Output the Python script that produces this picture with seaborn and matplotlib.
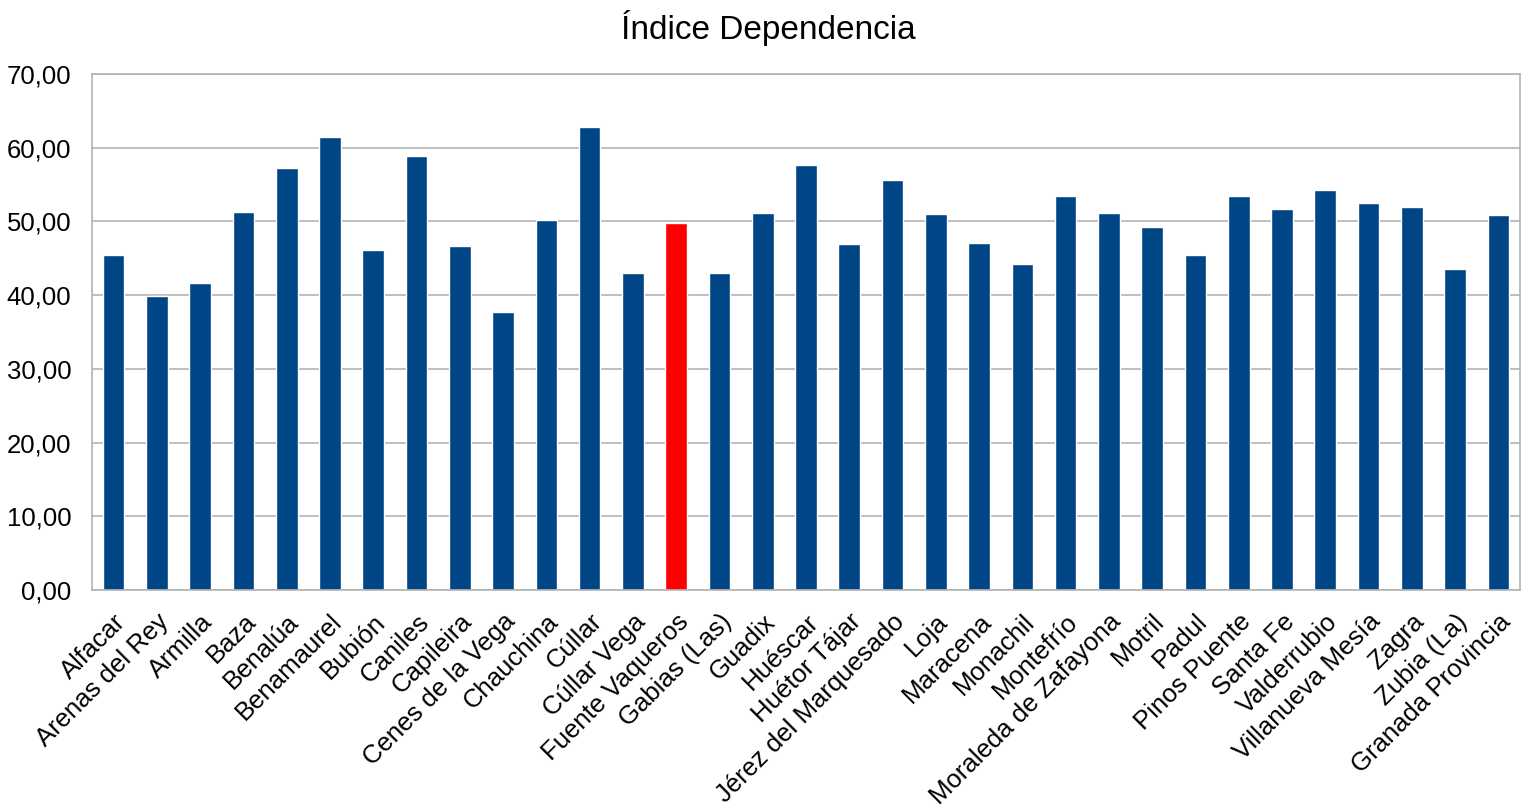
import pandas as pd
import matplotlib
matplotlib.use("Agg")
import matplotlib.pyplot as plt
import seaborn as sns

municipios = [
    "Alfacar", "Arenas del Rey", "Armilla", "Baza", "Benalúa", "Benamaurel",
    "Bubión", "Caniles", "Capileira", "Cenes de la Vega", "Chauchina", "Cúllar",
    "Cúllar Vega", "Fuente Vaqueros", "Gabias (Las)", "Guadix", "Huéscar",
    "Huétor Tájar", "Jérez del Marquesado", "Loja", "Maracena", "Monachil",
    "Montefrío", "Moraleda de Zafayona", "Motril", "Padul", "Pinos Puente",
    "Santa Fe", "Valderrubio", "Villanueva Mesía", "Zagra", "Zubia (La)",
    "Granada Provincia",
]
indice = [
    45.48, 39.90, 41.68, 51.22, 57.21, 61.40, 46.17, 58.84, 46.70, 37.73,
    50.14, 62.76, 43.04, 49.73, 43.04, 51.09, 57.62, 46.98, 55.58, 50.95,
    47.12, 44.26, 53.40, 51.09, 49.18, 45.48, 53.40, 51.63, 54.22, 52.45,
    51.90, 43.58, 50.82,
]
destacado = "Fuente Vaqueros"

df = pd.DataFrame({"municipio": municipios, "indice": indice})
df["grupo"] = ["rojo" if m == destacado else "azul" for m in municipios]

sns.set_style("whitegrid")
plt.rcParams["font.family"] = ["Liberation Sans", "DejaVu Sans"]
plt.rcParams["text.color"] = "black"
plt.rcParams["xtick.labelcolor"] = "black"
plt.rcParams["ytick.labelcolor"] = "black"

fig = plt.figure(figsize=(15.36, 8.07), dpi=100)
ax = fig.add_axes([0.0599, 0.2689, 0.9297, 0.6394])

sns.barplot(
    data=df, x="municipio", y="indice", hue="grupo",
    palette={"azul": "#004586", "rojo": "#ff0000"},
    width=0.5, saturation=1, legend=False, ax=ax,
)

ax.set_xlim(-0.5, len(municipios) - 0.5)
ax.set_ylim(0, 70)
ax.set_yticks(range(0, 71, 10))
ax.set_yticklabels([f"{v:.2f}".replace(".", ",") for v in range(0, 71, 10)],
                   fontsize=18.5)
ax.set_xticks(range(len(municipios)))
ax.set_xticklabels(municipios, rotation=45, ha="right", va="top",
                   rotation_mode="anchor", fontsize=18.5)
ax.set_xticks([i - 0.5 for i in range(len(municipios) + 1)], minor=True)
ax.tick_params(axis="x", which="major", length=0, pad=14, labelcolor="black")
ax.tick_params(axis="x", which="minor", length=10, color="#b3b3b3", width=1.2)
ax.tick_params(axis="y", length=10, color="#b3b3b3", width=1.2, pad=5,
               labelcolor="black")
ax.grid(axis="x", visible=False)
ax.grid(axis="y", color="#b3b3b3", linewidth=1.2)
for s in ax.spines.values():
    s.set_color("#b3b3b3")
    s.set_linewidth(1.2)

ax.set_xlabel("")
ax.set_ylabel("")
fig.suptitle("Índice Dependencia", fontsize=24, y=0.988, color="black")

fig.savefig("out.png", dpi=100)
